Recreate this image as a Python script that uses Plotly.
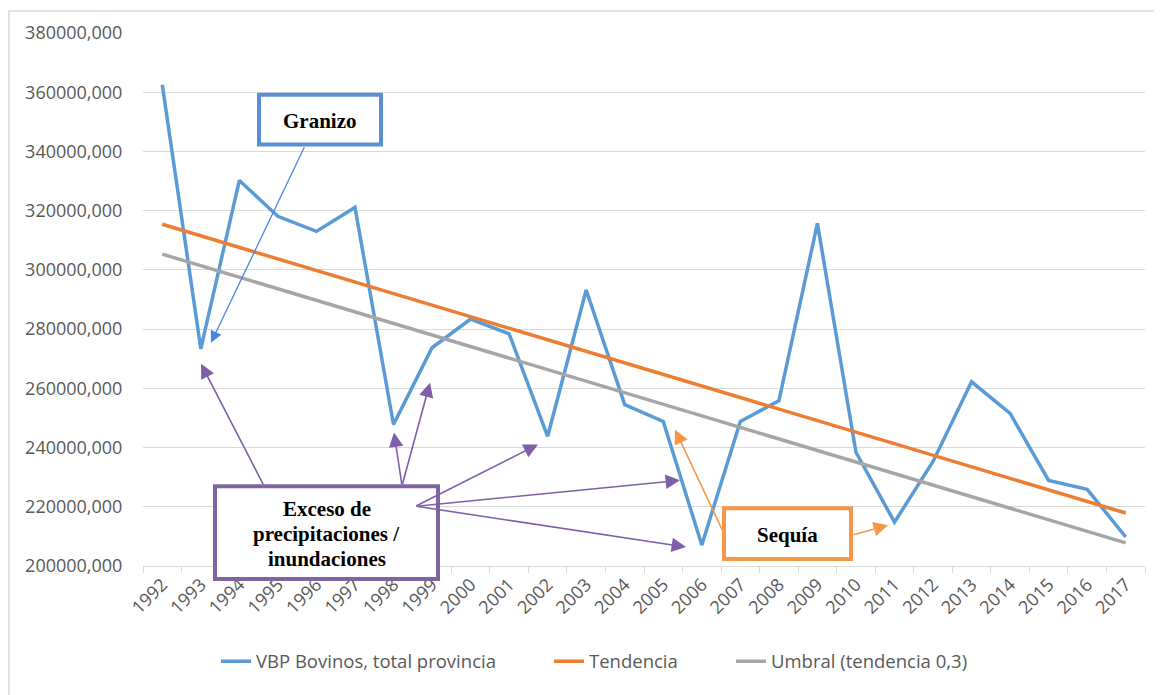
import plotly.graph_objects as go

years = [str(y) for y in range(1992, 2018)]
vbp_bovinos = [362500, 273300, 330200, 318100, 313000, 321100, 247800, 273700,
               283400, 278400, 243800, 293200, 254500, 248800, 207100, 248800,
               255800, 315700, 238400, 214800, 235300, 262200, 251500, 228900,
               225900, 209800]
tendencia = [315400, 311500, 307600, 303700, 299800, 295900, 292000, 288100,
             284200, 280300, 276400, 272500, 268600, 264700, 260800, 256900,
             253000, 249100, 245200, 241300, 237400, 233500, 229600, 225700,
             221800, 217900]
umbral = [305300, 301400, 297500, 293600, 289700, 285800, 281900, 278000,
          274100, 270200, 266300, 262400, 258500, 254600, 250700, 246800,
          242900, 239000, 235100, 231200, 227300, 223400, 219500, 215600,
          211700, 207800]
y_ticks = [200000, 220000, 240000, 260000, 280000, 300000, 320000, 340000, 360000, 380000]
y_ticktext = [f"{v},000" for v in y_ticks]

series_names = ["VBP Bovinos, total provincia", "Tendencia", "Umbral (tendencia 0,3)"]

# page offset (body margin) and plot area in page pixels
OFF = 8
L, R, T, B = 143, 1145, 31, 566
W, H = 1162 - OFF, 695 - OFF


def px(x):
    return (x - L) / (R - L)


def py(y):
    return (B - y) / (B - T)


fig = go.Figure()
fig.add_trace(go.Scatter(x=years, y=vbp_bovinos, mode="lines", name=series_names[0],
                         line=dict(color="#5B9BD5", width=3.5), legend="legend"))
fig.add_trace(go.Scatter(x=years, y=tendencia, mode="lines", name=series_names[1],
                         line=dict(color="#ED7D31", width=3.5), legend="legend2"))
fig.add_trace(go.Scatter(x=years, y=umbral, mode="lines", name=series_names[2],
                         line=dict(color="#A5A5A5", width=3.5), legend="legend3"))

tick_font = dict(family="Open Sans", size=18, color="#595959")
leg_font = dict(family="Open Sans", size=18.5, color="#595959")


def leg(xpage):
    return dict(orientation="h", x=px(xpage), xanchor="left", y=py(662), yanchor="middle",
                font=leg_font, bgcolor="rgba(0,0,0,0)", borderwidth=0)


fig.update_layout(
    width=W, height=H, autosize=False,
    margin=dict(l=L - OFF, r=(1162 - R), t=T - OFF, b=(695 - B)),
    paper_bgcolor="white", plot_bgcolor="white",
    showlegend=True,
    legend=leg(216), legend2=leg(549), legend3=leg(731),
    xaxis=dict(type="category", range=[-0.5, 25.5], tickangle=-45, tickfont=tick_font,
               showgrid=False, showline=True, linecolor="#D9D9D9", linewidth=1,
               ticks="outside", tickson="boundaries", ticklen=6, tickcolor="#D9D9D9",
               zeroline=False),
    yaxis=dict(range=[200000, 380000], tickvals=y_ticks, ticktext=y_ticktext,
               tickfont=tick_font, showgrid=True, gridcolor="#D9D9D9", gridwidth=1,
               zeroline=False, ticks="outside", ticklen=16, tickcolor="rgba(0,0,0,0)",
               showline=False),
)

shapes = []
# chart border
shapes.append(dict(type="rect", xref="paper", yref="paper",
                   x0=px(9), x1=px(1175), y0=py(9), y1=py(705),
                   line=dict(color="#D9D9D9", width=1.5), fillcolor="rgba(0,0,0,0)", layer="below"))

boxes = [
    # (x0, y0, x1, y1, color, text lines)
    (259, 93, 381, 143, "#5B8FD5", ["Granizo"]),
    (215, 486, 438, 579, "#8064A2", ["Exceso de", "precipitaciones /", "inundaciones"]),
    (724, 508, 851, 559, "#F79646", ["Sequía"]),
]
for x0, y0, x1, y1, col, _ in boxes:
    shapes.append(dict(type="rect", xref="paper", yref="paper",
                       x0=px(x0), x1=px(x1), y0=py(y1), y1=py(y0),
                       line=dict(color=col, width=4), fillcolor="white", layer="above"))
fig.update_layout(shapes=shapes)

annotations = []
LINE_H = 25
for x0, y0, x1, y1, col, lines in boxes:
    cy = (y0 + y1) / 2 + 1
    n = len(lines)
    for i, line in enumerate(lines):
        yy = cy + (i - (n - 1) / 2) * LINE_H
        annotations.append(dict(xref="paper", yref="paper", x=px((x0 + x1) / 2), y=py(yy),
                                text=f"<b>{line}</b>", showarrow=False,
                                xanchor="center", yanchor="middle",
                                font=dict(family="Liberation Serif", size=21, color="black")))

arrows = [
    # head_x, head_y, tail_x, tail_y, color, width
    (211, 342, 305, 145, "#4A86E0", 1.3),
    (201, 363, 264, 485, "#7F5FA8", 1.6),
    (394, 432, 402, 485, "#7F5FA8", 1.6),
    (430, 382, 402, 485, "#7F5FA8", 1.6),
    (538, 444, 415, 506, "#7F5FA8", 1.6),
    (680, 480, 415, 506, "#7F5FA8", 1.6),
    (686, 547, 415, 506, "#7F5FA8", 1.6),
    (675, 429, 723, 531, "#F79646", 1.6),
    (888, 525, 852, 535, "#F79646", 1.6),
]
for hx, hy, tx, ty, col, w in arrows:
    annotations.append(dict(xref="paper", yref="paper", x=px(hx), y=py(hy),
                            axref="pixel", ayref="pixel", ax=tx - hx, ay=ty - hy,
                            text="", showarrow=True, arrowhead=2, arrowsize=1.8,
                            arrowwidth=w, arrowcolor=col, standoff=0))
fig.update_layout(annotations=annotations)

fig.write_html("out.html")
